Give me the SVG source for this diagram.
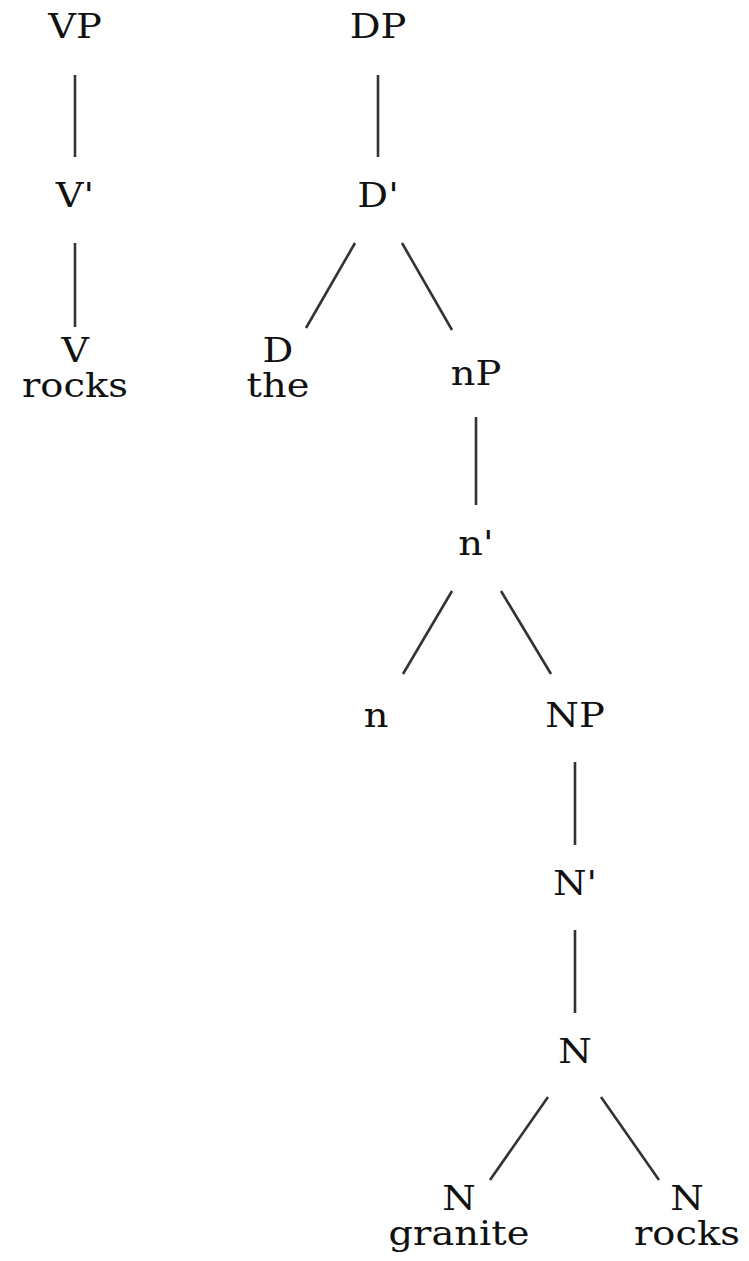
<svg xmlns="http://www.w3.org/2000/svg" width="749" height="1261" viewBox="0 0 749 1261">
  <style>
    .lbl { font-family: "DejaVu Serif", "Liberation Serif", serif; font-size: 34px; fill: #111; text-anchor: middle; }
    .edge { stroke: #333; stroke-width: 2.6; fill: none; }
  </style>
  <rect width="749" height="1261" fill="#fff"/>
  <g id="connectors">
    <line class="edge" x1="75" y1="75" x2="75" y2="157"/>
    <line class="edge" x1="75" y1="243" x2="75" y2="327"/>
    <line class="edge" x1="378" y1="75" x2="378" y2="157"/>
    <line class="edge" x1="355" y1="243" x2="306" y2="328"/>
    <line class="edge" x1="402" y1="243" x2="452" y2="330"/>
    <line class="edge" x1="476" y1="417" x2="476" y2="505"/>
    <line class="edge" x1="452" y1="591" x2="403" y2="674"/>
    <line class="edge" x1="501" y1="591" x2="551" y2="674"/>
    <line class="edge" x1="575" y1="762" x2="575" y2="845"/>
    <line class="edge" x1="575" y1="930" x2="575" y2="1013"/>
    <line class="edge" x1="548" y1="1097" x2="490" y2="1180"/>
    <line class="edge" x1="601" y1="1097" x2="659" y2="1180"/>
  </g>
  <!-- labels are set in a slightly widened serif: each group is placed at its centre and stretched horizontally -->
  <g id="VP" transform="translate(75 0) scale(1.13 1)"><text class="lbl" x="0" y="38">VP</text></g>
  <g id="Vbar" transform="translate(75 0) scale(1.13 1)"><text class="lbl" x="0" y="207">V'</text></g>
  <g id="V" transform="translate(75 0) scale(1.13 1)"><text class="lbl" x="0" y="362">V</text><text class="lbl" x="0" y="397">rocks</text></g>
  <g id="DP" transform="translate(378 0) scale(1.13 1)"><text class="lbl" x="0" y="38">DP</text></g>
  <g id="Dbar" transform="translate(378 0) scale(1.13 1)"><text class="lbl" x="0" y="207">D'</text></g>
  <g id="D" transform="translate(278 0) scale(1.13 1)"><text class="lbl" x="0" y="362">D</text><text class="lbl" x="0" y="397">the</text></g>
  <g id="nP" transform="translate(476 0) scale(1.13 1)"><text class="lbl" x="0" y="385">nP</text></g>
  <g id="nbar" transform="translate(476 0) scale(1.13 1)"><text class="lbl" x="0" y="555">n'</text></g>
  <g id="n" transform="translate(376 0) scale(1.13 1)"><text class="lbl" x="0" y="727">n</text></g>
  <g id="NP" transform="translate(575 0) scale(1.13 1)"><text class="lbl" x="0" y="727">NP</text></g>
  <g id="Nbar" transform="translate(575 0) scale(1.13 1)"><text class="lbl" x="0" y="895">N'</text></g>
  <g id="N" transform="translate(575 0) scale(1.13 1)"><text class="lbl" x="0" y="1063">N</text></g>
  <g id="N-granite" transform="translate(459 0) scale(1.13 1)"><text class="lbl" x="0" y="1210">N</text><text class="lbl" x="0" y="1245">granite</text></g>
  <g id="N-rocks" transform="translate(687 0) scale(1.13 1)"><text class="lbl" x="0" y="1210">N</text><text class="lbl" x="0" y="1245">rocks</text></g>
</svg>
